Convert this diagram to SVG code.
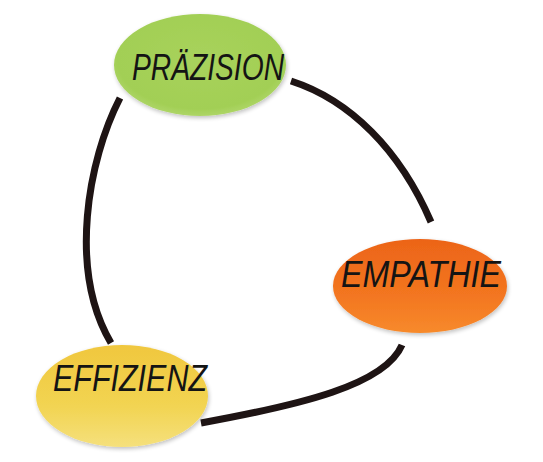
<svg xmlns="http://www.w3.org/2000/svg" width="543" height="462" viewBox="0 0 543 462">
<defs>
<radialGradient id="gGreen" cx="0.5" cy="0.45" r="0.6"><stop offset="0" stop-color="#a8d25c"/><stop offset="0.8" stop-color="#a2cf55"/><stop offset="1" stop-color="#b6da74"/></radialGradient>
<linearGradient id="gOrange" x1="0" y1="0" x2="0" y2="1"><stop offset="0" stop-color="#ec6418"/><stop offset="0.6" stop-color="#f37620"/><stop offset="1" stop-color="#f78a2c"/></linearGradient>
<linearGradient id="gYellow" x1="0" y1="0" x2="0" y2="1"><stop offset="0" stop-color="#f0c73e"/><stop offset="0.6" stop-color="#f2d452"/><stop offset="1" stop-color="#f5e07c"/></linearGradient>
<filter id="sh" x="-20%" y="-20%" width="140%" height="140%"><feGaussianBlur in="SourceAlpha" stdDeviation="2"/><feOffset dx="1" dy="2"/><feComponentTransfer><feFuncA type="linear" slope="0.25"/></feComponentTransfer><feMerge><feMergeNode/><feMergeNode in="SourceGraphic"/></feMerge></filter>
</defs>
<style>
.conn{fill:none;stroke:#1e1414;stroke-width:7;stroke-linecap:butt}
.lbl{font-family:"Liberation Sans","DejaVu Sans",sans-serif;font-style:italic;font-size:36px;fill:#141414;text-anchor:middle}
</style>
<rect width="543" height="462" fill="#ffffff"/>
<g id="connectors">
<path class="conn" d="M120,98 C88,160 68,270 111,343"/>
<path class="conn" d="M291,81 C350,100 400,150 431,222"/>
<path class="conn" d="M402,345 C385,385 300,405 201,423"/>
</g>
<g id="praezision">
<ellipse cx="200" cy="65" rx="86" ry="51" fill="url(#gGreen)" filter="url(#sh)"/>
<text class="lbl" x="208" y="80" textLength="152" lengthAdjust="spacingAndGlyphs">PRÄZISION</text>
</g>
<g id="empathie">
<ellipse cx="420" cy="286" rx="87" ry="47" fill="url(#gOrange)" filter="url(#sh)"/>
<text class="lbl" x="421" y="287" textLength="160" lengthAdjust="spacingAndGlyphs">EMPATHIE</text>
</g>
<g id="effizienz">
<ellipse cx="122" cy="396" rx="86" ry="51" fill="url(#gYellow)" filter="url(#sh)"/>
<text class="lbl" x="130" y="391" textLength="154" lengthAdjust="spacingAndGlyphs">EFFIZIENZ</text>
</g>
</svg>
